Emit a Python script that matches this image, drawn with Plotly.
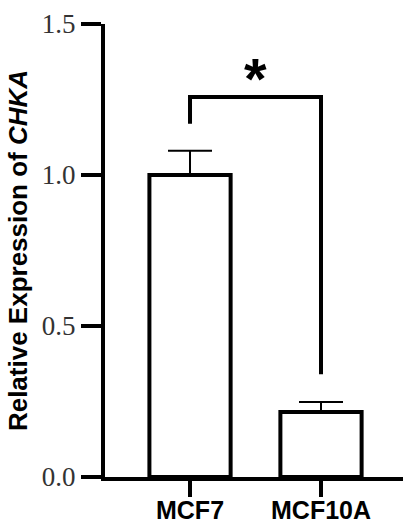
import plotly.graph_objects as go

categories = ["MCF7", "MCF10A"]
means = [1.0, 0.215]
errors = [0.08, 0.033]
y_ticks = [0.0, 0.5, 1.0, 1.5]
y_tick_labels = ["0.0", "0.5", "1.0", "1.5"]
bracket_x = ["MCF7", "MCF7", "MCF10A", "MCF10A"]
bracket_y = [1.17, 1.258, 1.258, 0.34]
sig_label = "*"
sig_y = 1.32

fig = go.Figure()
fig.add_trace(go.Bar(
    x=categories, y=means, width=0.62,
    marker=dict(color="white", line=dict(color="black", width=4)),
    error_y=dict(type="data", array=errors, arrayminus=[0, 0], symmetric=False,
                 color="black", thickness=2, width=22),
    showlegend=False,
))
fig.add_trace(go.Scatter(
    x=bracket_x, y=bracket_y, mode="lines",
    line=dict(color="black", width=4), showlegend=False, hoverinfo="skip",
))
fig.add_annotation(x=0.5, y=sig_y, xref="x", yref="y", text=sig_label,
                   showarrow=False, font=dict(family="Liberation Sans", size=58, color="black", weight="bold"))

fig.update_layout(
    width=403, height=524,
    margin=dict(l=105, r=0, t=24, b=47),
    paper_bgcolor="white", plot_bgcolor="white",
    xaxis=dict(
        range=[-0.649, 1.626], showline=True, linecolor="black", linewidth=4,
        ticks="outside", ticklen=16, tickwidth=4, tickcolor="black",
        ticklabelstandoff=-8,
        tickfont=dict(family="Liberation Sans", size=25, color="black", weight="bold"),
        showgrid=False, zeroline=False, automargin=False,
    ),
    yaxis=dict(
        range=[0, 1.5], showline=True, linecolor="black", linewidth=4,
        tickvals=y_ticks, ticktext=y_tick_labels,
        ticks="outside", ticklen=20, tickwidth=4, tickcolor="black",
        tickfont=dict(family="Liberation Serif", size=27, color="#333333"),
        showgrid=False, zeroline=False, automargin=False,
        title=dict(text="Relative Expression of <i>CHKA</i>", standoff=8,
                   font=dict(family="Liberation Sans", size=26, color="black", weight="bold")),
    ),
)
fig.write_html("out.html")
